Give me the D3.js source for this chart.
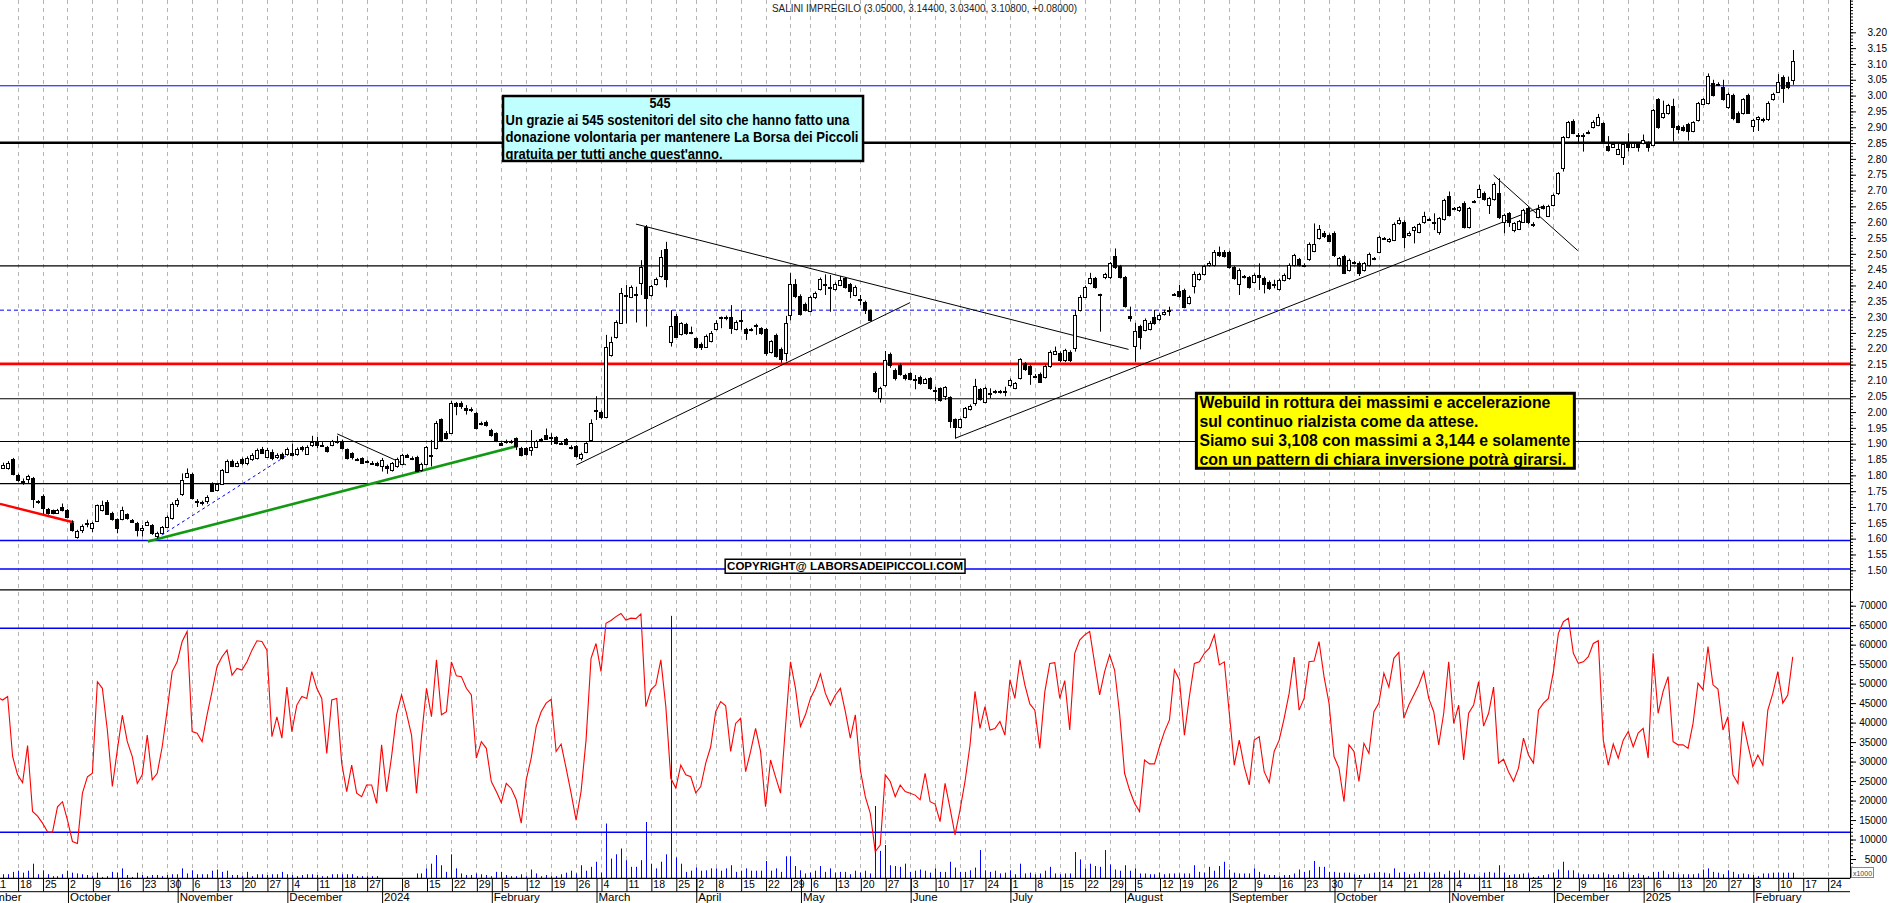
<!DOCTYPE html>
<html><head><meta charset="utf-8">
<script src="https://cdn.jsdelivr.net/npm/d3@7/dist/d3.min.js"></script>
<style>
html,body{margin:0;padding:0;background:#fff;overflow:hidden;}
svg{display:block;}
text{font-family:"Liberation Sans",Arial,sans-serif;}
</style></head>
<body><svg id="chart" width="1890" height="903"></svg>
<script>
// ================= DATA =================
const title = "SALINI IMPREGILO (3.05000, 3.14400, 3.03400, 3.10800, +0.08000)";
const holidays = ["2023-12-25","2023-12-26","2024-01-01","2024-03-29","2024-04-01","2024-05-01","2024-08-15","2024-12-24","2024-12-25","2024-12-26","2024-12-31","2025-01-01"];
const calendarStart = "2023-08-28", calendarEnd = "2025-03-08";
const anchorDate = "2023-09-18";   // trading-day offset 0
const candleStart = "2023-09-13";
const volumeStart = "2023-09-13";
const oscStart = "2023-09-12";
const monthNames = ["January","February","March","April","May","June","July","August","September","October","November","December"];

// [open, high, low, close]
const candles = [
[1.823,1.84,1.82,1.833],[1.823,1.845,1.818,1.838],[1.851,1.855,1.80,1.805],
[1.801,1.805,1.78,1.786],[1.781,1.79,1.77,1.779],[1.788,1.802,1.776,1.798],[1.791,1.795,1.697,1.725],[1.718,1.722,1.71,1.716],[1.735,1.74,1.678,1.696],[1.693,1.697,1.676,1.68],[1.69,1.692,1.677,1.68],[1.682,1.694,1.679,1.691],[1.701,1.711,1.686,1.689],
[1.691,1.694,1.664,1.667],[1.651,1.658,1.622,1.626],[1.604,1.628,1.60,1.624],[1.628,1.645,1.618,1.64],[1.65,1.66,1.636,1.648],[1.633,1.653,1.62,1.649],[1.657,1.708,1.655,1.705],[1.689,1.72,1.686,1.706],[1.717,1.722,1.675,1.678],[1.682,1.685,1.657,1.661],
[1.661,1.664,1.617,1.633],[1.661,1.701,1.658,1.691],[1.677,1.68,1.66,1.665],[1.659,1.662,1.65,1.654],[1.651,1.653,1.607,1.626],[1.628,1.643,1.607,1.633],[1.643,1.657,1.64,1.654],[1.643,1.646,1.612,1.617],[1.607,1.622,1.60,1.619],[1.619,1.64,1.615,1.636],
[1.638,1.673,1.634,1.67],[1.665,1.715,1.66,1.71],[1.71,1.728,1.70,1.722],[1.74,1.806,1.735,1.785],[1.796,1.822,1.792,1.809],[1.804,1.808,1.724,1.728],[1.718,1.725,1.70,1.717],[1.715,1.72,1.705,1.713],[1.72,1.737,1.71,1.733],[1.773,1.778,1.748,1.752],
[1.754,1.776,1.75,1.773],[1.773,1.82,1.77,1.817],[1.812,1.85,1.81,1.845],[1.846,1.85,1.826,1.83],[1.83,1.845,1.826,1.838],[1.851,1.856,1.832,1.838],[1.838,1.86,1.832,1.854],[1.851,1.87,1.846,1.865],[1.854,1.885,1.85,1.88],[1.882,1.89,1.868,1.872],
[1.859,1.887,1.855,1.88],[1.875,1.882,1.848,1.854],[1.857,1.87,1.852,1.865],[1.867,1.872,1.85,1.854],[1.867,1.888,1.862,1.882],[1.872,1.90,1.86,1.865],[1.868,1.888,1.862,1.882],[1.889,1.893,1.875,1.882],[1.868,1.895,1.865,1.891],[1.895,1.925,1.89,1.904],
[1.904,1.922,1.886,1.896],[1.897,1.905,1.89,1.896],[1.889,1.893,1.872,1.878],[1.896,1.912,1.892,1.907],[1.907,1.925,1.90,1.906],[1.909,1.913,1.882,1.886],[1.882,1.885,1.85,1.854],[1.87,1.873,1.85,1.857],[1.851,1.855,1.845,1.85],[1.854,1.857,1.836,1.84],
[1.844,1.848,1.838,1.843],[1.84,1.845,1.835,1.839],[1.84,1.843,1.828,1.832],[1.83,1.855,1.812,1.849],[1.83,1.834,1.805,1.822],[1.817,1.842,1.812,1.838],[1.828,1.856,1.824,1.851],[1.836,1.868,1.832,1.864],[1.864,1.868,1.855,1.859],[1.855,1.86,1.848,1.854],
[1.859,1.862,1.81,1.815],[1.817,1.84,1.812,1.836],[1.836,1.893,1.832,1.889],[1.865,1.912,1.828,1.864],[1.886,1.972,1.882,1.967],[1.977,1.98,1.905,1.91],[1.935,1.94,1.913,1.917],[1.935,2.035,1.932,2.03],[2.028,2.032,1.99,2.02],[2.03,2.034,2.01,2.02],
[2.012,2.022,1.992,2.007],[2.009,2.015,2.0,2.008],[1.998,2.0,1.945,1.949],[1.965,1.97,1.958,1.964],[1.97,1.973,1.954,1.96],[1.943,1.947,1.922,1.928],[1.933,1.936,1.905,1.912],[1.901,1.905,1.893,1.896],[1.91,1.913,1.90,1.909],[1.909,1.912,1.90,1.908],
[1.917,1.92,1.88,1.893],[1.888,1.89,1.86,1.864],[1.886,1.889,1.862,1.868],[1.88,1.943,1.862,1.891],[1.891,1.912,1.886,1.907],[1.914,1.918,1.905,1.913],[1.928,1.948,1.912,1.916],[1.921,1.933,1.896,1.92],[1.92,1.924,1.898,1.902],[1.902,1.906,1.896,1.901],
[1.914,1.918,1.895,1.899],[1.891,1.895,1.882,1.886],[1.893,1.896,1.856,1.861],[1.854,1.872,1.847,1.868],[1.875,1.905,1.87,1.901],[1.912,1.977,1.908,1.965],[2.007,2.05,1.975,2.006],[2.001,2.005,1.978,1.983],[1.983,2.244,1.98,2.207],[2.18,2.238,2.175,2.222],
[2.238,2.29,2.232,2.286],[2.283,2.392,2.28,2.377],[2.371,2.402,2.28,2.369],[2.363,2.40,2.36,2.396],[2.372,2.396,2.283,2.37],[2.407,2.48,2.37,2.457],[2.586,2.591,2.27,2.36],[2.37,2.402,2.365,2.398],[2.405,2.425,2.40,2.42],[2.43,2.512,2.425,2.491],
[2.515,2.538,2.394,2.422],[2.22,2.322,2.207,2.273],[2.304,2.31,2.234,2.238],[2.247,2.284,2.242,2.28],[2.278,2.282,2.244,2.249],[2.252,2.27,2.246,2.251],[2.233,2.236,2.20,2.207],[2.215,2.22,2.196,2.207],[2.207,2.245,2.203,2.241],[2.223,2.256,2.22,2.251],
[2.262,2.29,2.258,2.283],[2.299,2.302,2.265,2.298],[2.301,2.305,2.29,2.30],[2.30,2.338,2.247,2.265],[2.262,2.29,2.258,2.286],[2.29,2.322,2.26,2.289],[2.262,2.266,2.228,2.249],[2.262,2.266,2.255,2.261],[2.276,2.279,2.244,2.275],[2.265,2.268,2.244,2.249],
[2.262,2.266,2.178,2.186],[2.191,2.227,2.185,2.223],[2.244,2.248,2.172,2.177],[2.20,2.204,2.156,2.167],[2.186,2.304,2.16,2.283],[2.307,2.439,2.29,2.405],[2.405,2.42,2.36,2.367],[2.367,2.372,2.305,2.309],[2.342,2.346,2.318,2.323],[2.32,2.368,2.316,2.363],
[2.363,2.381,2.357,2.377],[2.388,2.425,2.384,2.42],[2.406,2.435,2.37,2.404],[2.395,2.433,2.317,2.394],[2.388,2.41,2.384,2.405],[2.402,2.43,2.398,2.417],[2.423,2.427,2.39,2.394],[2.405,2.408,2.36,2.381],[2.37,2.40,2.366,2.396],[2.357,2.37,2.338,2.356],
[2.349,2.352,2.31,2.323],[2.321,2.324,2.286,2.291],[2.123,2.128,2.06,2.068],[2.044,2.08,2.03,2.075],[2.086,2.193,2.08,2.163],[2.184,2.188,2.14,2.149],[2.133,2.138,2.10,2.107],[2.149,2.153,2.115,2.12],[2.117,2.121,2.10,2.107],[2.123,2.126,2.10,2.104],
[2.104,2.117,2.072,2.103],[2.112,2.115,2.086,2.091],[2.093,2.108,2.09,2.104],[2.107,2.11,2.07,2.075],[2.07,2.08,2.035,2.069],[2.075,2.078,2.033,2.038],[2.051,2.082,2.038,2.078],[2.047,2.05,1.95,1.973],[1.977,1.98,1.917,1.952],[1.952,1.98,1.948,1.977],
[1.984,2.016,1.98,2.012],[2.009,2.024,2.005,2.019],[2.028,2.105,2.02,2.083],[2.072,2.076,2.036,2.04],[2.033,2.08,2.028,2.075],[2.06,2.075,2.044,2.059],[2.065,2.07,2.058,2.064],[2.065,2.07,2.058,2.064],[2.066,2.08,2.05,2.065],[2.086,2.106,2.08,2.102],
[2.075,2.095,2.072,2.091],[2.107,2.17,2.103,2.167],[2.154,2.158,2.13,2.135],[2.146,2.149,2.086,2.121],[2.115,2.12,2.108,2.114],[2.121,2.125,2.092,2.096],[2.11,2.15,2.106,2.146],[2.146,2.195,2.14,2.191],[2.184,2.207,2.18,2.194],[2.188,2.192,2.158,2.163],
[2.163,2.20,2.158,2.196],[2.191,2.195,2.158,2.163],[2.202,2.323,2.191,2.307],[2.323,2.37,2.318,2.365],[2.365,2.40,2.36,2.396],[2.407,2.44,2.403,2.423],[2.423,2.427,2.39,2.396],[2.372,2.374,2.254,2.371],[2.426,2.44,2.42,2.436],[2.428,2.474,2.42,2.47],
[2.493,2.517,2.452,2.457],[2.461,2.465,2.422,2.428],[2.426,2.43,2.33,2.335],[2.304,2.333,2.286,2.296],[2.209,2.282,2.159,2.257],[2.272,2.276,2.198,2.238],[2.26,2.296,2.255,2.291],[2.262,2.288,2.258,2.283],[2.30,2.323,2.276,2.281],[2.293,2.312,2.288,2.307],
[2.31,2.323,2.305,2.317],[2.323,2.333,2.304,2.322],[2.373,2.376,2.369,2.372],[2.384,2.402,2.362,2.367],[2.386,2.39,2.328,2.333],[2.344,2.368,2.34,2.363],[2.398,2.444,2.375,2.436],[2.42,2.44,2.415,2.436],[2.436,2.465,2.432,2.46],[2.465,2.477,2.46,2.472],
[2.465,2.512,2.46,2.507],[2.507,2.523,2.49,2.496],[2.507,2.512,2.488,2.493],[2.507,2.51,2.453,2.458],[2.458,2.462,2.418,2.423],[2.405,2.454,2.37,2.449],[2.429,2.433,2.422,2.428],[2.426,2.43,2.39,2.396],[2.412,2.438,2.408,2.433],[2.433,2.47,2.386,2.428],
[2.423,2.428,2.375,2.405],[2.412,2.416,2.386,2.391],[2.405,2.418,2.391,2.404],[2.388,2.422,2.384,2.417],[2.417,2.438,2.413,2.433],[2.423,2.47,2.418,2.465],[2.465,2.50,2.46,2.496],[2.483,2.487,2.46,2.465],[2.465,2.47,2.46,2.464],[2.483,2.536,2.478,2.531],
[2.51,2.596,2.505,2.531],[2.549,2.591,2.545,2.578],[2.567,2.572,2.55,2.556],[2.56,2.564,2.538,2.542],[2.567,2.571,2.49,2.496],[2.465,2.49,2.46,2.486],[2.493,2.497,2.436,2.441],[2.449,2.485,2.444,2.481],[2.473,2.478,2.467,2.472],[2.472,2.476,2.43,2.441],
[2.449,2.474,2.444,2.47],[2.465,2.504,2.46,2.50],[2.487,2.49,2.48,2.486],[2.507,2.557,2.502,2.552],[2.55,2.553,2.545,2.549],[2.539,2.55,2.535,2.546],[2.544,2.599,2.54,2.594],[2.596,2.615,2.592,2.607],[2.602,2.606,2.518,2.552],[2.56,2.571,2.555,2.567],
[2.575,2.588,2.533,2.584],[2.57,2.598,2.565,2.594],[2.599,2.633,2.595,2.62],[2.61,2.614,2.604,2.609],[2.602,2.628,2.575,2.601],[2.57,2.616,2.56,2.612],[2.609,2.674,2.605,2.67],[2.683,2.697,2.618,2.623],[2.644,2.648,2.638,2.643],[2.637,2.651,2.632,2.647],
[2.662,2.666,2.58,2.586],[2.584,2.648,2.58,2.644],[2.666,2.67,2.66,2.665],[2.681,2.718,2.676,2.704],[2.693,2.697,2.668,2.672],[2.654,2.68,2.626,2.675],[2.672,2.726,2.668,2.721],[2.693,2.739,2.61,2.615],[2.602,2.627,2.565,2.623],[2.628,2.632,2.585,2.599],
[2.575,2.60,2.568,2.596],[2.58,2.607,2.575,2.603],[2.602,2.642,2.598,2.637],[2.644,2.65,2.594,2.599],[2.595,2.60,2.585,2.594],[2.617,2.655,2.612,2.641],[2.651,2.655,2.64,2.644],[2.62,2.655,2.616,2.651],[2.654,2.69,2.65,2.686],[2.691,2.758,2.686,2.754],
[2.77,2.872,2.76,2.868],[2.87,2.92,2.865,2.915],[2.921,2.925,2.878,2.883],[2.876,2.882,2.85,2.875],[2.876,2.881,2.823,2.873],[2.881,2.89,2.878,2.886],[2.90,2.922,2.896,2.918],[2.907,2.942,2.903,2.931],[2.912,2.916,2.85,2.855],[2.842,2.872,2.823,2.828],
[2.839,2.85,2.835,2.847],[2.816,2.85,2.812,2.83],[2.807,2.851,2.781,2.847],[2.851,2.881,2.823,2.837],[2.839,2.853,2.835,2.849],[2.847,2.851,2.823,2.837],[2.851,2.877,2.846,2.86],[2.851,2.855,2.823,2.839],[2.844,2.958,2.84,2.955],[2.988,2.992,2.895,2.90],
[2.931,2.984,2.927,2.944],[2.944,2.974,2.94,2.97],[2.967,2.99,2.855,2.90],[2.904,2.908,2.88,2.893],[2.902,2.906,2.886,2.891],[2.91,2.914,2.858,2.889],[2.889,2.919,2.884,2.915],[2.923,2.98,2.918,2.976],[2.974,2.992,2.97,2.988],[2.976,3.07,2.972,3.062],
[3.041,3.05,2.997,3.002],[3.037,3.042,3.03,3.036],[3.026,3.05,2.984,2.988],[2.963,3.01,2.958,3.005],[3.002,3.006,2.922,2.928],[2.946,2.95,2.913,2.918],[2.944,2.992,2.94,2.988],[3.002,3.006,2.942,2.946],[2.904,2.927,2.885,2.923],[2.925,2.935,2.888,2.931],
[2.925,2.93,2.915,2.924],[2.925,2.982,2.92,2.978],[2.988,3.009,2.984,3.005],[3.012,3.068,3.008,3.044],[3.06,3.064,2.977,3.023],[3.044,3.06,3.02,3.028],[3.05,3.144,3.034,3.108]
];

// volume, thousands of shares (x1000 axis units)
const volume = [1.1,1.1,1.7,
2.0,1.5,2.0,3.8,1.1,2.1,1.1,0.6,0.6,1.1, 2.0,1.5,1.3,1.1,0.9,0.6,1.5,0.4,0.6,1.7,
1.5,2.6,0.9,0.4,1.5,0.9,0.6,0.9,0.9,0.6, 0.9,1.1,1.1,2.6,1.3,2.1,1.1,1.1,1.1,2.0,
2.3,1.7,2.0,0.9,0.9,0.6,1.7,0.6,1.1,1.1, 0.9,1.1,1.1,1.7,1.1,0.9,0.6,0.9,1.1,1.1,
0.9,0.6,0.6,1.1,1.1,1.1,1.1,1.1,0.6,0.6, 0.6,0.6,0.6,0,0,0,0,0,0,0,
1.3,1.3,2.6,3.8,6.0,3.4,1.7,6.2,2.6,1.3, 0.9,0.9,1.3,1.1,0.9,0.6,1.7,1.7,0.9,0.6,
0.6,1.1,0.6,2.3,1.3,0.6,0.9,0.6,0.6,1.1, 1.5,2.0,1.3,3.4,2.0,3.0,4.3,1.5,14.1,5.1,
6.2,7.7,4.7,3.0,3.0,4.7,14.5,3.8,2.6,4.3, 6.2,67.4,5.4,3.8,1.7,2.0,2.8,2.0,2.1,2.6,
2.6,2.0,2.6,3.4,1.7,2.0,2.6,2.0,2.0,2.0, 4.5,2.0,2.6,1.7,5.7,5.7,3.2,2.1,1.3,1.5,
2.0,3.2,1.7,2.6,1.5,1.7,1.7,1.1,2.0,1.5, 2.0,1.3,18.6,7.1,8.6,3.4,3.2,3.0,3.8,1.7,
2.0,2.3,2.0,1.5,2.6,1.7,1.7,4.3,2.8,1.7, 1.7,2.1,2.8,7.3,2.1,1.7,2.0,1.3,1.5,2.1,
1.1,3.8,1.3,1.5,1.1,1.3,2.0,3.0,1.3,1.1, 1.3,1.3,6.8,4.9,2.6,3.8,3.2,3.0,7.3,3.6,
2.3,2.0,3.4,2.0,2.6,1.3,1.3,1.1,1.1,1.5, 1.1,1.3,1.3,1.3,1.3,1.3,3.4,1.7,1.5,3.0,
2.0,3.2,4.3,2.3,1.5,1.3,1.3,1.3,2.6,1.7, 1.1,0.9,0.9,0.6,0.9,0.9,1.3,2.3,1.7,2.1,
4.5,3.0,3.0,1.7,1.7,1.5,1.5,1.5,1.1,0.9, 1.1,1.3,1.5,1.7,1.5,1.3,2.6,1.5,1.7,1.1,
1.3,1.7,1.7,1.3,1.5,1.7,1.1,2.0,1.5,2.1, 1.5,1.1,1.1,0.6,1.5,1.7,1.5,3.4,1.5,0.9,
1.1,1.1,1.3,1.3,0.4,0.6,0.9,1.1,1.5,2.3, 4.3,2.1,2.1,1.3,1.1,1.1,1.1,1.1,1.5,1.1,
0.9,1.1,1.7,1.1,0.9,1.3,0.9,0.6,1.7,1.7, 2.0,1.1,1.7,1.1,1.1,1.1,1.1,1.3,2.3,2.6,
1.7,1.5,1.1,2.1,1.7,1.1,1.3,1.1,0.9,0.6, 1.3,1.3,1.5,1.5,1.5,1.5,1.5];

// oscillator, in thousands on the lower axis
const oscillator = [46.5,45.8,46.7,31.3,
26.6,24.6,34.1,17.2,16.0,14.2,12.0,11.9,18.4,19.7, 15.0,9.5,9.0,21.9,26.1,27.0,50.5,48.8,38.1,23.6,
33.0,41.9,35.1,31.3,24.4,26.6,36.8,25.3,27.0,33.8, 43.2,53.1,55.6,60.8,63.4,37.7,37.3,35.1,42.0,48.0,
54.4,56.9,58.6,52.2,53.9,53.5,55.6,58.6,61.0,60.8, 58.6,36.4,41.5,36.0,49.1,37.7,44.5,46.7,46.2,53.1,
48.8,46.2,32.1,45.8,46.2,29.6,22.3,29.1,21.9,21.0, 24.0,24.0,19.3,34.3,22.3,31.3,42.0,47.1,42.4,36.8,
21.9,36.4,48.8,41.5,56.1,42.0,42.8,55.6,52.0,51.8, 48.8,47.1,30.9,35.1,33.4,24.9,22.3,19.5,24.4,23.1,
20.2,14.2,25.3,30.9,39.0,42.8,45.0,46.0,32.6,34.5, 28.3,21.9,15.0,22.3,35.5,56.5,60.3,53.1,65.5,66.2,
67.2,68.0,66.3,66.8,66.7,67.9,44.1,48.4,49.7,56.1, 44.1,25.7,23.2,29.1,26.6,26.1,22.0,23.6,29.6,33.8,
42.8,45.4,44.3,32.6,39.8,41.1,27.4,32.6,38.5,32.6, 18.4,30.4,26.1,21.9,39.0,55.6,48.8,39.0,42.0,46.2,
48.8,52.5,47.5,44.5,47.1,48.8,42.8,36.0,42.0,27.9, 21.0,16.7,6.9,8.6,26.6,24.9,21.0,24.0,22.3,21.9,
21.4,20.2,27.0,19.7,19.1,14.6,24.4,18.0,11.2,17.6, 24.9,34.2,48.0,38.5,44.1,38.1,38.5,40.3,36.8,51.0,
46.2,56.1,49.7,44.8,43.2,33.4,47.9,55.2,55.4,46.2, 50.8,38.1,57.8,61.2,62.5,63.4,55.2,47.1,53.1,57.4,
53.5,42.4,27.0,22.7,19.3,17.2,30.4,29.4,29.4,33.8, 37.7,40.7,53.5,51.0,36.8,46.7,55.2,55.6,57.8,59.1,
62.5,54.8,55.6,42.4,29.1,35.5,28.7,24.0,35.5,36.4, 27.4,24.6,32.6,35.5,41.1,47.5,56.8,43.2,46.2,55.6,
55.8,60.8,51.8,45.0,31.3,28.3,19.7,34.3,32.6,24.9, 34.7,32.1,42.8,45.0,52.7,49.1,56.5,58.0,41.1,44.5,
47.1,49.7,53.1,46.2,42.8,34.3,42.4,55.6,39.8,44.5, 30.4,42.4,44.5,50.5,39.1,42.4,49.1,29.6,30.6,27.4,
24.9,28.3,36.0,31.7,29.6,43.2,45.0,46.2,53.1,62.9, 65.9,66.8,57.8,55.2,55.6,56.9,60.3,61.0,35.5,29.1,
34.5,30.9,35.5,37.7,33.8,37.3,38.5,30.9,57.8,42.4, 48.0,51.8,35.1,34.3,34.3,33.4,39.8,50.1,48.4,59.5,
49.7,48.6,38.1,41.5,26.6,24.4,40.3,34.3,28.7,31.7, 29.1,43.2,47.5,53.1,45.0,47.1,56.9];

const priceTickValues = [3.20,3.15,3.10,3.05,3.00,2.95,2.90,2.85,2.80,2.75,2.70,2.65,2.60,2.55,2.50,2.45,2.40,2.35,2.30,2.25,2.20,2.15,2.10,2.05,2.00,1.95,1.90,1.85,1.80,1.75,1.70,1.65,1.60,1.55,1.50];
const volTickValues = [70000,65000,60000,55000,50000,45000,40000,35000,30000,25000,20000,15000,10000,5000];

// horizontal support / resistance levels (price)
const priceLevels = [3.031, 2.851, 2.462, 2.322, 2.152, 2.042, 1.907, 1.774, 1.594, 1.504, 1.438];
const levelStyles = [
 {c:"#0000ff",w:1},{c:"#000",w:2.6},{c:"#000",w:1.2},{c:"#0000ff",w:1,d:"4,3"},{c:"#ff0000",w:2.8},
 {c:"#000",w:1.2},{c:"#000",w:1.2},{c:"#000",w:1.2},{c:"#0000ff",w:1.4},{c:"#0000ff",w:1.4},{c:"#000",w:1.2}];
const oscLevels = [64.2, 11.85];

// trendlines: [trading-day offset from anchor, price]
const trendlines = [
 [[-3.53,1.710],[11.31,1.651]],
 [[26.1,1.591],[100.3,1.893]],
 [[27.9,1.601],[54.1,1.864]],
 [[64.1,1.931],[77.9,1.833]],
 [[112.1,1.833],[179.0,2.346]],
 [[124.0,2.594],[222.8,2.198]],
 [[188.0,1.917],[305.7,2.649]],
 [[296.0,2.749],[312.9,2.510]]
];
const trendStyles = [{c:"#ff0000",w:2.4},{c:"#119911",w:2.6},{c:"#0000ff",w:1,d:"3,3"},{c:"#000",w:1},{c:"#000",w:1},{c:"#000",w:1},{c:"#000",w:1},{c:"#000",w:1}];

// annotation boxes anchored in data units [offset, price]
const noteCyan = {from:[97.35,2.9987], to:[169.55,2.7934],
  head:"545",
  lines:["Un grazie ai 545 sostenitori del sito che hanno fatto una","donazione volontaria per mantenere La Borsa dei Piccoli","gratuita per tutti anche quest'anno."]};
const noteYellow = {from:[236.4,2.0594], to:[312.2,1.8224],
  lines:["Webuild in rottura dei massimi e accelerazione","sul continuo rialzista come da attese.","Siamo sui 3,108 con massimi a 3,144 e solamente","con un pattern di chiara inversione potrà girarsi."]};
const noteCopy = {from:[141.9,1.5349], to:[190.0,1.4907], text:"COPYRIGHT@ LABORSADEIPICCOLI.COM"};

// ================= LAYOUT =================
const PLOT_R = 1850, BASE = 878.3, ROW2 = 891.7;
const svg = d3.select("#chart");
svg.append("rect").attr("width",1890).attr("height",903).attr("fill","#fff");

const fmt = d3.utcFormat("%Y-%m-%d"), parse = d3.utcParse("%Y-%m-%d");
const days = d3.utcDays(parse(calendarStart), parse(calendarEnd))
  .filter(d => { const w = d.getUTCDay(); return w !== 0 && w !== 6 && !holidays.includes(fmt(d)); });
const k0 = days.findIndex(d => fmt(d) === anchorDate);
const off = s => days.findIndex(d => fmt(d) === s) - k0;

const x = d3.scaleLinear().domain([0, 353]).range([17.6, 1777.8]);
const yP = d3.scaleLinear().domain([1.50, 3.20]).range([570.3, 32.3]);
const yV = d3.scaleLinear().domain([0, 70]).range([878.5, 605.7]);
const px = v => Math.round(v) + 0.5;

svg.append("clipPath").attr("id","plot").append("rect").attr("x",0).attr("y",0).attr("width",PLOT_R).attr("height",BASE);
const plot = svg.append("g").attr("clip-path","url(#plot)");

// week ticks (first trading day of each week), skipping year-boundary weeks
const weekOf = d => +d3.utcMonday.floor(d);
const yearStartWeeks = new Set(days.map((d,k)=>k).filter(k => k>0 && days[k].getUTCFullYear() !== days[k-1].getUTCFullYear()).map(k => weekOf(days[k])));
const weekTicks = days.map((d,k)=>k).filter(k => (k===0 || weekOf(days[k]) !== weekOf(days[k-1])) && !yearStartWeeks.has(weekOf(days[k]))).map(k => k - k0);
const monthTicks = days.map((d,k)=>k).filter(k => k>0 && days[k].getUTCMonth() !== days[k-1].getUTCMonth()).map(k => k - k0);
const visWeeks = weekTicks.filter(d => x(d) > -10 && x(d) < PLOT_R);
const visMonths = monthTicks.filter(d => x(d) > -45 && x(d) < PLOT_R);

// gridlines
plot.append("g").selectAll("line").data(visWeeks).join("line")
  .attr("x1", d => px(x(d))).attr("x2", d => px(x(d))).attr("y1", 0).attr("y2", BASE)
  .attr("stroke","#b4b4b4").attr("stroke-width",1).attr("stroke-dasharray","4,4");

// price levels
plot.append("g").selectAll("line").data(priceLevels).join("line")
  .attr("x1",0).attr("x2",PLOT_R).attr("y1", d => yP(d)).attr("y2", d => yP(d))
  .attr("stroke",(d,i)=>levelStyles[i].c).attr("stroke-width",(d,i)=>levelStyles[i].w)
  .attr("stroke-dasharray",(d,i)=>levelStyles[i].d||null);

// oscillator levels
plot.append("g").selectAll("line").data(oscLevels).join("line")
  .attr("x1",0).attr("x2",PLOT_R).attr("y1", d => yV(d)).attr("y2", d => yV(d))
  .attr("stroke","#0000ff").attr("stroke-width",1.4);

// trendlines
plot.append("g").selectAll("line").data(trendlines).join("line")
  .attr("x1", d => x(d[0][0])).attr("y1", d => yP(d[0][1]))
  .attr("x2", d => x(d[1][0])).attr("y2", d => yP(d[1][1]))
  .attr("stroke",(d,i)=>trendStyles[i].c).attr("stroke-width",(d,i)=>trendStyles[i].w)
  .attr("stroke-dasharray",(d,i)=>trendStyles[i].d||null);

// candles
const c0 = off(candleStart);
const cg = plot.append("g");
candles.forEach((c, j) => {
  const i = c0 + j, cx = Math.round(x(i));
  const [o,h,l,cl] = c;
  cg.append("line").attr("x1",cx+0.5).attr("x2",cx+0.5).attr("y1",yP(h)).attr("y2",yP(l))
    .attr("stroke","#000").attr("stroke-width",1);
  const yt = Math.round(yP(Math.max(o,cl))), yb = Math.round(yP(Math.min(o,cl)));
  const hgt = Math.max(1, yb - yt);
  cg.append("rect").attr("x", cx-1.5).attr("y", yt+0.5).attr("width",3).attr("height",hgt)
    .attr("fill", cl >= o ? "#fff" : "#000").attr("stroke","#000").attr("stroke-width",1);
});

// volume bars
const v0 = off(volumeStart);
plot.append("g").selectAll("line").data(volume).join("line")
  .attr("x1",(d,j)=>Math.round(x(v0+j))+0.5).attr("x2",(d,j)=>Math.round(x(v0+j))+0.5)
  .attr("y1", yV(0)).attr("y2", d => yV(d))
  .attr("stroke","#0000ff").attr("stroke-width",1);

// oscillator line
const o0 = off(oscStart);
plot.append("path").datum(oscillator)
  .attr("d", d3.line().x((d,j)=>x(o0+j)).y(d=>yV(d)))
  .attr("fill","none").attr("stroke","#ff0000").attr("stroke-width",1.1);

// ================= ANNOTATIONS =================
function boxRect(n){ return {x:x(n.from[0]), y:yP(n.from[1]), w:x(n.to[0])-x(n.from[0]), h:yP(n.to[1])-yP(n.from[1])}; }
{
  const b = boxRect(noteCyan);
  const g = svg.append("g");
  g.append("rect").attr("x",b.x).attr("y",b.y).attr("width",b.w).attr("height",b.h)
    .attr("fill","#c0ffff").attr("stroke","#000").attr("stroke-width",2.5);
  g.append("text").attr("x",b.x+157).attr("y",b.y+12).attr("text-anchor","middle")
    .attr("font-size",14).attr("font-weight","bold").text(noteCyan.head)
    .attr("textLength",21).attr("lengthAdjust","spacingAndGlyphs");
  const lens = [344,353,217];
  noteCyan.lines.forEach((t,k)=>{
    g.append("text").attr("x",b.x+2.5).attr("y",b.y+29.3+k*16.7)
      .attr("font-size",14).attr("font-weight","bold")
      .attr("textLength",lens[k]).attr("lengthAdjust","spacingAndGlyphs").text(t);
  });
}
{
  const b = boxRect(noteYellow);
  const g = svg.append("g");
  g.append("rect").attr("x",b.x).attr("y",b.y).attr("width",b.w).attr("height",b.h)
    .attr("fill","#ffff00").attr("stroke","#000").attr("stroke-width",3);
  const lens = [351,279,371,367];
  noteYellow.lines.forEach((t,k)=>{
    g.append("text").attr("x",b.x+3).attr("y",b.y+15+k*18.9)
      .attr("font-size",16.5).attr("font-weight","bold")
      .attr("textLength",lens[k]).attr("lengthAdjust","spacingAndGlyphs").text(t);
  });
}
{
  const b = boxRect(noteCopy);
  const g = svg.append("g");
  g.append("rect").attr("x",b.x).attr("y",b.y).attr("width",b.w).attr("height",b.h)
    .attr("fill","#fff").attr("stroke","#000").attr("stroke-width",1.5);
  g.append("text").attr("x",b.x+b.w/2).attr("y",b.y+b.h/2+4).attr("text-anchor","middle")
    .attr("font-size",11).attr("font-weight","bold")
    .attr("textLength",236).attr("lengthAdjust","spacingAndGlyphs").text(noteCopy.text);
}

// title
svg.append("text").attr("x",772).attr("y",12).attr("font-size",10).attr("fill","#222")
  .attr("textLength",305).attr("lengthAdjust","spacingAndGlyphs").text(title);

// ================= AXES =================
// price axis
const pAxis = svg.append("g").attr("transform",`translate(${PLOT_R},0)`)
  .call(d3.axisRight(yP).tickValues(priceTickValues).tickSize(6).tickFormat(d3.format(".2f")));
pAxis.select(".domain").remove();
pAxis.selectAll("text").attr("x",37).attr("text-anchor","end").attr("font-size",10).attr("font-family","Liberation Sans, Arial, sans-serif").attr("fill","#000");
const pMinor = svg.append("g").attr("transform",`translate(${PLOT_R},0)`)
  .call(d3.axisRight(yP).tickValues(d3.range(144,331,1).map(v=>v/100)).tickSize(3).tickFormat(""));
pMinor.select(".domain").remove();

// volume/osc axis
const vAxis = svg.append("g").attr("transform",`translate(${PLOT_R},0)`)
  .call(d3.axisRight(yV).tickValues(volTickValues.map(v=>v/1000)).tickSize(6).tickFormat(d=>String(Math.round(d*1000))));
vAxis.select(".domain").remove();
vAxis.selectAll("text").attr("x",37).attr("text-anchor","end").attr("font-size",10).attr("font-family","Liberation Sans, Arial, sans-serif").attr("fill","#000");
const vMinor = svg.append("g").attr("transform",`translate(${PLOT_R},0)`)
  .call(d3.axisRight(yV).tickValues(d3.range(1,72,1)).tickSize(3).tickFormat(""));
vMinor.select(".domain").remove();

svg.append("line").attr("x1",PLOT_R+0.5).attr("x2",PLOT_R+0.5).attr("y1",0).attr("y2",BASE).attr("stroke","#000");
// x1000 box
svg.append("rect").attr("x",1851.5).attr("y",867.5).attr("width",22).attr("height",10).attr("fill","#fff").attr("stroke","#888");
svg.append("text").attr("x",1862.5).attr("y",875.5).attr("text-anchor","middle").attr("font-size",7).attr("fill","#444").text("x1000");

// date axis
svg.append("line").attr("x1",0).attr("x2",PLOT_R).attr("y1",BASE).attr("y2",BASE).attr("stroke","#000").attr("stroke-width",1.3);
svg.append("line").attr("x1",0).attr("x2",PLOT_R).attr("y1",ROW2).attr("y2",ROW2).attr("stroke","#000").attr("stroke-width",1);

const dayAxis = svg.append("g").attr("transform",`translate(0,${BASE})`)
  .call(d3.axisBottom(x).tickValues(visWeeks).tickSize(ROW2-BASE).tickFormat(d => days[d+k0].getUTCDate()));
dayAxis.select(".domain").remove();
dayAxis.selectAll(".tick line").attr("transform","translate(0.5,0)");
dayAxis.selectAll("text").attr("x",2).attr("y",2).attr("text-anchor","start").attr("font-size",10.5)
  .attr("font-family","Liberation Sans, Arial, sans-serif").attr("fill","#000");

const monAxis = svg.append("g").attr("transform",`translate(0,${BASE})`)
  .call(d3.axisBottom(x).tickValues(visMonths).tickSize(30).tickFormat(d => { const dt = days[d+k0]; return dt.getUTCMonth()===0 ? String(dt.getUTCFullYear()) : monthNames[dt.getUTCMonth()]; }));
monAxis.select(".domain").remove();
monAxis.selectAll(".tick line").attr("transform","translate(0.5,0)");
monAxis.selectAll("text").attr("x",2).attr("y",15).attr("text-anchor","start").attr("font-size",11.5)
  .attr("font-family","Liberation Sans, Arial, sans-serif").attr("fill","#000");
</script>
</body></html>
